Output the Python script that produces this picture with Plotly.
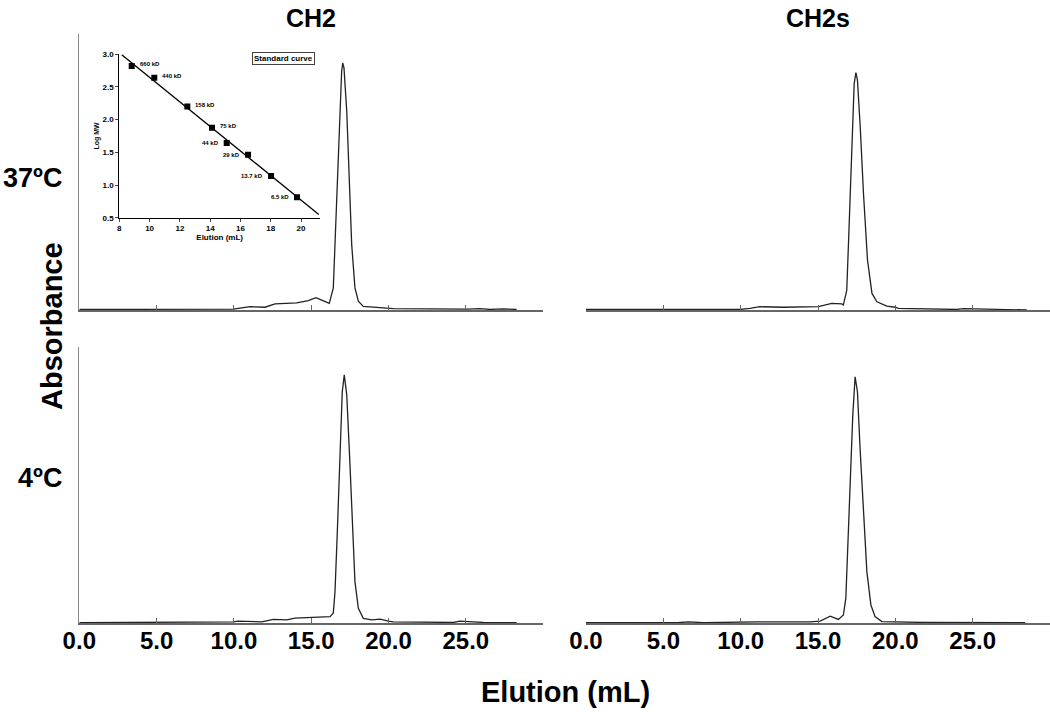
import numpy as np
import plotly.graph_objects as go

# ---------------- data ----------------
# CH2, 37 C (elution mL, relative absorbance)
ch2_37_x = [0.0, 9.96, 11.04, 12.01, 12.66, 14.06, 14.81, 15.31, 15.68, 16.17, 16.43, 16.54, 16.69, 16.86,
            16.97, 17.04, 17.12, 17.30, 17.46, 17.62, 17.83, 18.05, 18.37, 19.24, 19.99, 20.31, 25.06,
            25.92, 26.56, 27.41, 28.29]
ch2_37_y = [0.002, 0.003, 0.012, 0.010, 0.022, 0.026, 0.034, 0.045, 0.036, 0.024, 0.080, 0.236, 0.478, 0.720,
            0.865, 0.895, 0.877, 0.720, 0.478, 0.236, 0.080, 0.032, 0.013, 0.010, 0.007, 0.005, 0.003,
            0.005, 0.002, 0.004, 0.002]

# CH2s, 37 C
ch2s_37_x = [0.0, 7.81, 9.96, 10.6, 11.25, 12.76, 15.03, 15.89, 16.54, 16.64, 16.86, 17.01, 17.19, 17.34,
             17.45, 17.55, 17.73, 17.94, 18.2, 18.49, 18.81, 19.45, 19.99, 20.2, 23.98, 24.4, 28.5]
ch2s_37_y = [0.002, 0.002, 0.002, 0.006, 0.012, 0.010, 0.012, 0.024, 0.022, 0.018, 0.072, 0.302, 0.604, 0.82,
             0.86, 0.833, 0.664, 0.423, 0.181, 0.060, 0.030, 0.014, 0.010, 0.006, 0.002, 0.005, 0.0]

# CH2, 4 C
ch2_4_x = [0.0, 9.96, 10.28, 11.8, 12.55, 13.42, 13.95, 15.14, 16.22, 16.43, 16.54, 16.69, 16.86, 17.01,
           17.14, 17.30, 17.51, 17.68, 17.83, 18.05, 18.37, 18.91, 19.45, 19.99, 20.3, 24.19, 24.62,
           25.49, 26.13, 28.29]
ch2_4_y = [0.001, 0.004, 0.007, 0.004, 0.013, 0.011, 0.018, 0.021, 0.023, 0.036, 0.114, 0.331, 0.633, 0.838,
           0.899, 0.826, 0.572, 0.331, 0.150, 0.053, 0.017, 0.011, 0.014, 0.007, 0.004, 0.002, 0.007,
           0.004, 0.002, 0.001]

# CH2s, 4 C
ch2s_4_x = [0.0, 5.9, 6.6, 7.6, 11.04, 11.69, 14.49, 15.14, 15.79, 16.32, 16.64, 16.8, 16.93, 17.08, 17.25,
            17.4, 17.55, 17.72, 17.94, 18.16, 18.42, 18.69, 19.13, 20.31, 21.8, 28.4]
ch2s_4_y = [0.001, 0.001, 0.004, 0.001, 0.004, 0.004, 0.004, 0.007, 0.025, 0.013, 0.029, 0.090, 0.27, 0.512,
            0.754, 0.892, 0.838, 0.633, 0.391, 0.186, 0.065, 0.023, 0.005, 0.004, 0.002, 0.001]

# Standard curve (inset)
std_labels = ["660 kD", "440 kD", "158 kD", "75 kD", "44 kD", "29 kD", "13.7 kD", "6.5 kD"]
std_elution = [8.82, 10.31, 12.49, 14.12, 15.09, 16.5, 18.02, 19.73]
std_logmw = [2.82, 2.64, 2.2, 1.875, 1.643, 1.462, 1.137, 0.813]
std_label_side = ["right", "right", "right", "right", "left", "left", "left", "left"]
fit_range = [8.16, 21.17]

x_ticks = [0, 5, 10, 15, 20, 25]
x_tick_text = ["0.0", "5.0", "10.0", "15.0", "20.0", "25.0"]
inset_xticks = [8, 10, 12, 14, 16, 18, 20]
inset_yticks = [0.5, 1.0, 1.5, 2.0, 2.5, 3.0]

col_titles = ["CH2", "CH2s"]
row_titles = ["37ºC", "4ºC"]

# ---------------- figure ----------------
FONT = "Liberation Sans, Arial, sans-serif"
LINE = "#222222"
AX = "#666666"
W, H = 1050, 712

fig = go.Figure()
panels = [
    (ch2_37_x, ch2_37_y, "x", "y"),
    (ch2s_37_x, ch2s_37_y, "x2", "y2"),
    (ch2_4_x, ch2_4_y, "x3", "y3"),
    (ch2s_4_x, ch2s_4_y, "x4", "y4"),
]
for xs, ys, xa, ya in panels:
    fig.add_trace(go.Scatter(x=xs, y=ys, mode="lines", xaxis=xa, yaxis=ya,
                             line=dict(color=LINE, width=1.3), showlegend=False, hoverinfo="skip"))

# inset
coef = np.polyfit(std_elution, std_logmw, 1)
fx = np.array(fit_range)
fig.add_trace(go.Scatter(x=fx, y=np.polyval(coef, fx), mode="lines", xaxis="x5", yaxis="y5",
                         line=dict(color="black", width=1.3), showlegend=False))
fig.add_trace(go.Scatter(x=std_elution, y=std_logmw, mode="markers", xaxis="x5", yaxis="y5",
                         marker=dict(symbol="square", size=6, color="black"), showlegend=False))

xl = [79.3 / W, 543.1 / W]
xr = [586 / W, 1.0]
yt = [1 - 310 / H, 1 - 34 / H]
yb = [1 - 623 / H, 1 - 347 / H]

def xax(domain, anchor, labels):
    return dict(domain=domain, anchor=anchor, range=[0, 30], showgrid=False, zeroline=False,
                showline=True, linecolor=AX, linewidth=1.5, ticks="inside", ticklen=5, tickwidth=1,
                tickcolor=AX, tickvals=x_ticks, ticktext=x_tick_text, showticklabels=labels,
                automargin=False, ticklabelstandoff=-4,
                tickfont=dict(family=FONT, size=24, color="black", weight="bold"))

def yax(domain, anchor, line):
    return dict(domain=domain, anchor=anchor, range=[0, 1], showgrid=False, zeroline=False,
                showticklabels=False, ticks="", showline=line, linecolor="#888888", linewidth=1,
                automargin=False)

fig.update_layout(
    width=W, height=H, margin=dict(l=0, r=0, t=0, b=0, pad=0, autoexpand=False),
    paper_bgcolor="white", plot_bgcolor="white",
    xaxis=xax(xl, "y", False), yaxis=yax(yt, "x", True),
    xaxis2=xax(xr, "y2", False), yaxis2=yax(yt, "x2", False),
    xaxis3=xax(xl, "y3", True), yaxis3=yax(yb, "x3", True),
    xaxis4=xax(xr, "y4", True), yaxis4=yax(yb, "x4", False),
    xaxis5=dict(domain=[119.3 / W, 320 / W], anchor="y5", range=[8, 21.25], showgrid=False,
                zeroline=False, showline=True, linecolor="black", linewidth=1, ticks="outside",
                ticklen=3, tickvals=inset_xticks, automargin=False,
                tickfont=dict(family=FONT, size=8, color="black", weight="bold"),
                title=dict(text="Elution (mL)", standoff=2,
                           font=dict(family=FONT, size=8, color="black", weight="bold"))),
    yaxis5=dict(domain=[1 - 217.7 / H, 1 - 54.3 / H], anchor="x5", range=[0.5, 3.0],
                showgrid=False, zeroline=False, showline=True, linecolor="black", linewidth=1,
                ticks="outside", ticklen=3, tickvals=inset_yticks, tickformat=".1f", automargin=False,
                tickfont=dict(family=FONT, size=8, color="black", weight="bold"),
                title=dict(text="Log MW", standoff=2,
                           font=dict(family=FONT, size=7, color="black", weight="bold"))),
)

ann = []
for lab, ex, ly, side in zip(std_labels, std_elution, std_logmw, std_label_side):
    ann.append(dict(x=ex, y=ly, xref="x5", yref="y5", text=lab, showarrow=False,
                    xanchor="left" if side == "right" else "right", yanchor="middle",
                    xshift=6 if side == "right" else -6, yshift=2 if side == "right" else 0,
                    font=dict(family=FONT, size=6, color="black", weight="bold")))
ann.append(dict(x=283 / W, y=1 - 58.5 / H, xref="paper", yref="paper", text="Standard curve",
                showarrow=False, bordercolor="#444", borderwidth=1, borderpad=1, bgcolor="white",
                xanchor="center", yanchor="middle",
                font=dict(family=FONT, size=8, color="black", weight="bold")))

for t, cx in zip(col_titles, [311, 818]):
    ann.append(dict(x=cx / W, y=1 - 18 / H, xref="paper", yref="paper", text=t, showarrow=False,
                    xanchor="center", yanchor="middle",
                    font=dict(family=FONT, size=25, color="black", weight="bold")))
for t, cy in zip(row_titles, [178, 478]):
    ann.append(dict(x=64 / W, y=1 - cy / H, xref="paper", yref="paper", text=t, showarrow=False,
                    xanchor="right", yanchor="middle",
                    font=dict(family=FONT, size=27, color="black", weight="bold")))
ann.append(dict(x=52 / W, y=1 - 326 / H, xref="paper", yref="paper", text="Absorbance",
                showarrow=False, textangle=-90, xanchor="center", yanchor="middle",
                font=dict(family=FONT, size=29, color="black", weight="bold")))
ann.append(dict(x=565 / W, y=1 - 692 / H, xref="paper", yref="paper", text="Elution (mL)",
                showarrow=False, xanchor="center", yanchor="middle",
                font=dict(family=FONT, size=29, color="black", weight="bold")))
fig.update_layout(annotations=ann)

fig.write_html("out.html", config={"displayModeBar": False, "staticPlot": True},
               post_script="document.body.style.margin='0px';")
